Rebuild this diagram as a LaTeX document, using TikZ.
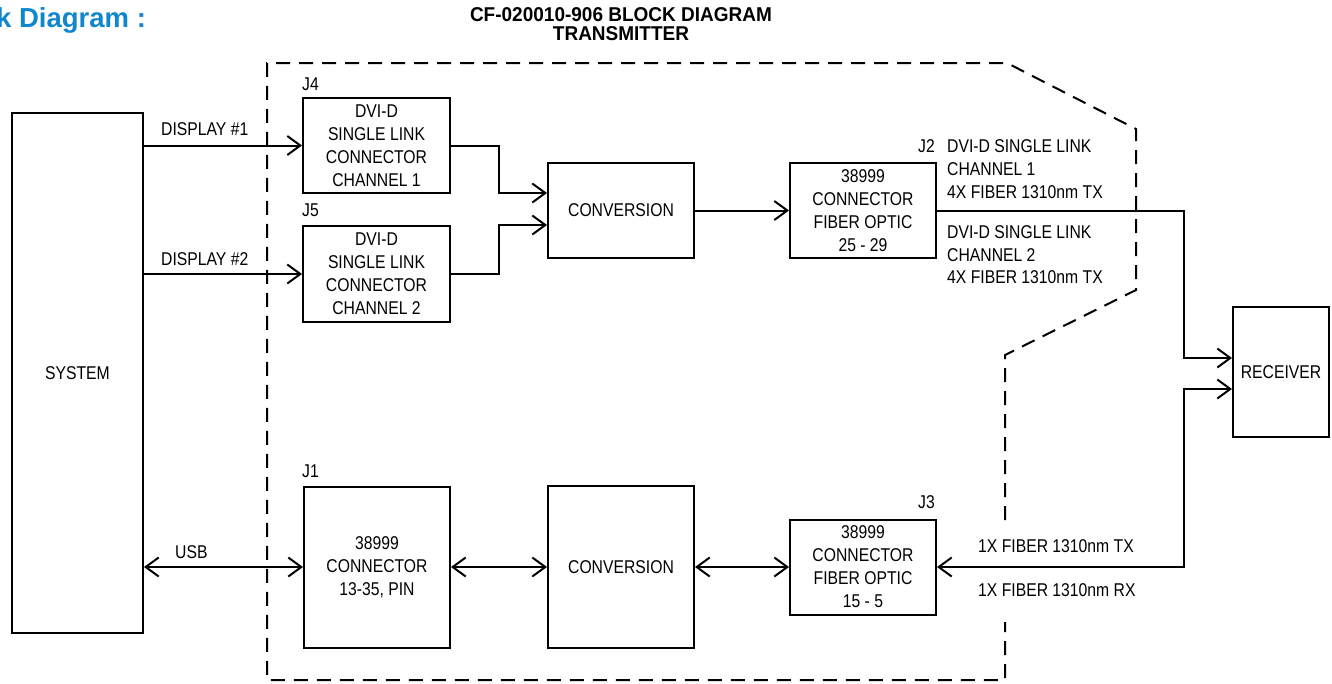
\documentclass[tikz,border=0pt]{standalone}
\usepackage{fontspec}
\setmainfont{Liberation Sans}[FakeStretch=0.85]
\newfontfamily\titlefont{Liberation Sans}
\newfontfamily\headfont{Liberation Sans}[FakeStretch=0.95]
\usetikzlibrary{arrows.meta,calc}
\definecolor{titleblue}{RGB}{16,134,206}
\begin{document}
\begin{tikzpicture}[x=1pt,y=-1pt,
  every node/.style={font=\fontsize{18.5}{23}\selectfont},
  blk/.style={draw,line width=2pt,inner sep=0pt,align=center},
  lbl/.style={inner sep=0pt,anchor=base west},
  wire/.style={line width=2pt},
  >={Straight Barb[length=13pt,width=19pt,line width=2pt]},
  border/.style={line width=2pt,dash pattern=on 14pt off 9pt}]
\useasboundingbox (0,0) rectangle (1332,683);
% titles
\node[lbl,font=\titlefont\fontsize{27.5}{30}\selectfont\bfseries,text=titleblue] (ttl) at (-4,27) {k Diagram :};
\node[inner sep=0pt,anchor=base,font=\headfont\fontsize{20}{22}\selectfont\bfseries] (hd1) at (621,21) {CF-020010-906 BLOCK DIAGRAM};
\node[inner sep=0pt,anchor=base,font=\headfont\fontsize{20}{22}\selectfont\bfseries] (hd2) at (621,40) {TRANSMITTER};
% transmitter outline (open where the fiber labels cross it)
\draw[border] (1005,520) -- (1005,355) -- (1136,290) -- (1136,129) -- (1007,63) -- (267,63) -- (267,680) -- (1005,680) -- (1005,622);
% blocks
\node[blk,minimum width=131pt,minimum height=520pt] (sys) at (77.5,373) {SYSTEM};
\node[blk,minimum width=147pt,minimum height=95pt] (j4) at (376.5,145.5) {DVI-D\\SINGLE LINK\\CONNECTOR\\CHANNEL 1};
\node[blk,minimum width=147pt,minimum height=96pt] (j5) at (376.5,274) {DVI-D\\SINGLE LINK\\CONNECTOR\\CHANNEL 2};
\node[blk,minimum width=146pt,minimum height=95pt] (conv1) at (621,210.5) {CONVERSION};
\node[blk,minimum width=146pt,minimum height=95pt] (j2) at (863,210.5) {38999\\CONNECTOR\\FIBER OPTIC\\25 - 29};
\node[blk,minimum width=96pt,minimum height=130pt] (recv) at (1281,372) {RECEIVER};
\node[blk,minimum width=146pt,minimum height=161pt] (j1) at (377,567) {38999\\CONNECTOR\\13-35, PIN};
\node[blk,minimum width=146pt,minimum height=162pt] (conv2) at (621,567) {CONVERSION};
\node[blk,minimum width=146pt,minimum height=95pt] (j3) at (863,567) {38999\\CONNECTOR\\FIBER OPTIC\\15 - 5};
% block designators
\node[lbl] (lj4) at (302,90) {J4};
\node[lbl] (lj5) at (302,216) {J5};
\node[lbl] (lj1) at (302,477) {J1};
\node[lbl] (lj3) at (918,508) {J3};
\node[lbl] (lj2) at (918,152) {J2};
% connector labels
\node[lbl] (t1a) at (947,152) {DVI-D SINGLE LINK};
\node[lbl] (t1b) at (947,175) {CHANNEL 1};
\node[lbl] (t1c) at (947,198) {4X FIBER 1310nm TX};
\node[lbl] (t2a) at (947,238) {DVI-D SINGLE LINK};
\node[lbl] (t2b) at (947,261) {CHANNEL 2};
\node[lbl] (t2c) at (947,283) {4X FIBER 1310nm TX};
\node[lbl] (d1) at (161,135) {DISPLAY \#1};
\node[lbl] (d2) at (161,265) {DISPLAY \#2};
\node[lbl] (usb) at (175,558) {USB};
\node[lbl] (ftx) at (978,552) {1X FIBER 1310nm TX};
\node[lbl] (frx) at (978,596) {1X FIBER 1310nm RX};
% connectors
\coordinate (bus) at (1184,0);
\draw[wire,->] (sys.east |- j4.west) -- (j4.west);
\draw[wire,->] (sys.east |- j5.west) -- (j5.west);
\draw[wire,->] (j4.east) -- ++(48,0) |- ([yshift=17.5pt]conv1.west);
\draw[wire,->] (j5.east) -- ++(48,0) |- ([yshift=-14.5pt]conv1.west);
\draw[wire,->] (conv1.east) -- (j2.west);
\draw[wire,->] (j2.east) -- (j2.east -| bus) |- ([yshift=14pt]recv.west);
\draw[wire,<->] (j3.east) -- (j3.east -| bus) |- ([yshift=-17pt]recv.west);
\draw[wire,<->] (sys.east |- j1.west) -- (j1.west);
\draw[wire,<->] (j1.east) -- (conv2.west);
\draw[wire,<->] (conv2.east) -- (j3.west);
\end{tikzpicture}
\end{document}
